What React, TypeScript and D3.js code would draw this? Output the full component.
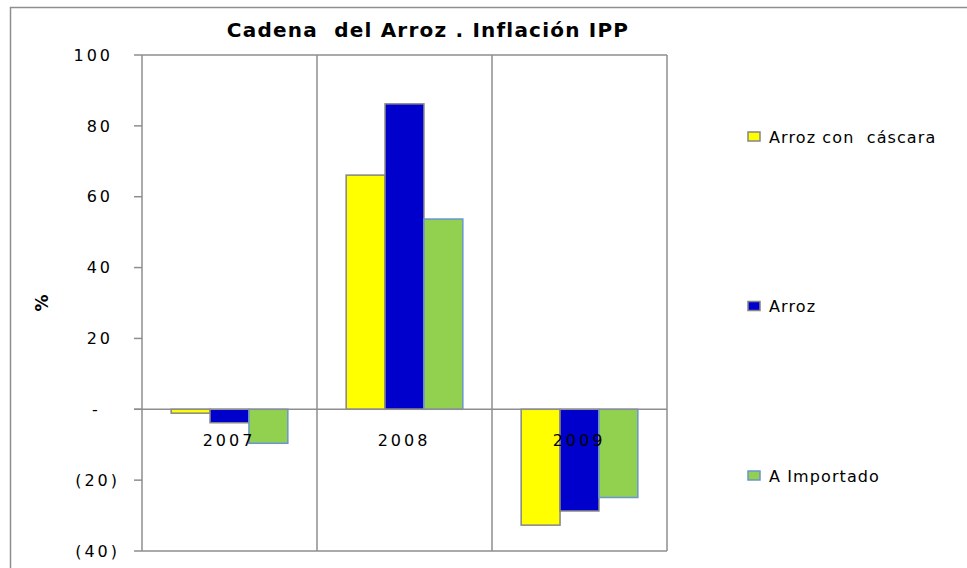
import React from "react";
import * as d3 from "d3";

const categories = ["2007", "2008", "2009"];
const seriesNames = ["Arroz con  cáscara", "Arroz", "A Importado"];
const arrozConCascara = [-1.1, 66.1, -32.7];
const arroz = [-3.8, 86.2, -28.7];
const aImportado = [-9.6, 53.7, -24.9];
const yTicks = [100, 80, 60, 40, 20, 0, -20, -40];
const title = "Cadena  del Arroz . Inflación IPP";
const yLabel = "%";

const seriesValues = [arrozConCascara, arroz, aImportado];
const fills = ["#FFFF00", "#0000CC", "#92D050"];
const strokes = ["#858585", "#858585", "#6A95CF"];

const W = 967;
const H = 568;
const plot = { left: 142, right: 667, top: 55, bottom: 551 };
const gridColor = "#8E8E8E";
const font = "'DejaVu Sans', Verdana, sans-serif";

const keepSpaces = (s: string) => s.replace(/  /g, " \u00A0");

export default function App() {
  const y = d3.scaleLinear().domain([-40, 100]).range([plot.bottom, plot.top]);
  const x = d3.scaleBand<string>().domain(categories).range([plot.left, plot.right]).padding(0);
  const xs = d3
    .scaleBand<number>()
    .domain(d3.range(seriesNames.length))
    .range([0, x.bandwidth()])
    .paddingInner(0)
    .paddingOuter(0.75);

  const fmt = (v: number) => (v === 0 ? "-" : v < 0 ? `(${Math.abs(v)})` : `${v}`);
  const ls = 3;

  return (
    <svg
      width={W}
      height={H}
      style={{ position: "absolute", left: 0, top: 0, background: "#fff" }}
      fontFamily={font}
    >
      {/* outer chart border */}
      <path d={`M10.5,${H + 5} L10.5,7.5 L${W + 5},7.5`} fill="none" stroke={gridColor} strokeWidth={1.5} />

      {/* title */}
      <text x={428} y={37} textAnchor="middle" fontSize={20} fontWeight="bold" letterSpacing={1.2} fill="#000">
        {keepSpaces(title)}
      </text>

      {/* plot border */}
      <line x1={plot.left} x2={plot.right} y1={y(100)} y2={y(100)} stroke={gridColor} strokeWidth={1.5} />
      <line x1={plot.left} x2={plot.right} y1={y(-40)} y2={y(-40)} stroke={gridColor} strokeWidth={1.5} />
      <line x1={plot.right} x2={plot.right} y1={y(100)} y2={y(-40)} stroke={gridColor} strokeWidth={1.5} />

      {/* vertical category gridlines */}
      {categories.slice(1).map((c) => (
        <line
          key={c}
          x1={x(c)!}
          x2={x(c)!}
          y1={y(100)}
          y2={y(-40)}
          stroke={gridColor}
          strokeWidth={1.5}
        />
      ))}

      {/* bars */}
      {categories.map((c, ci) =>
        seriesValues.map((vals, si) => {
          const v = vals[ci];
          const x0 = x(c)! + xs(si)!;
          const y0 = Math.min(y(v), y(0));
          const h = Math.abs(y(v) - y(0));
          return (
            <rect
              key={`${c}-${si}`}
              x={x0}
              y={y0}
              width={xs.bandwidth()}
              height={h}
              fill={fills[si]}
              stroke={strokes[si]}
              strokeWidth={1.5}
            />
          );
        })
      )}

      {/* zero line */}
      <line x1={plot.left - 8} x2={plot.right} y1={y(0)} y2={y(0)} stroke={gridColor} strokeWidth={1.5} />

      {/* y axis */}
      <line x1={plot.left} x2={plot.left} y1={y(100)} y2={y(-40)} stroke={gridColor} strokeWidth={1.5} />
      {yTicks.map((t) => (
        <g key={t}>
          <line x1={plot.left - 8} x2={plot.left} y1={y(t)} y2={y(t)} stroke={gridColor} strokeWidth={1.5} />
          <text
            x={t === 0 ? 95 : t < 0 ? 117 + ls : 110 + ls}
            y={y(t)}
            dy="0.36em"
            textAnchor={t === 0 ? "middle" : "end"}
            fontSize={16}
            letterSpacing={t === 0 ? 0 : ls}
            fill="#000"
          >
            {fmt(t)}
          </text>
        </g>
      ))}

      {/* y label */}
      <text
        transform={`translate(48,${(y(100) + y(-40)) / 2}) rotate(-90)`}
        textAnchor="middle"
        fontSize={17}
        fontWeight="bold"
        fill="#000"
      >
        {yLabel}
      </text>

      {/* category labels */}
      {categories.map((c) => (
        <text
          key={c}
          x={x(c)! + x.bandwidth() / 2 + ls / 2 - 2}
          y={446}
          textAnchor="middle"
          fontSize={16}
          letterSpacing={ls}
          fill="#000"
        >
          {c}
        </text>
      ))}

      {/* legend */}
      {seriesNames.map((s, i) => {
        const ly = 132 + i * 169.5;
        return (
          <g key={s}>
            <rect x={748} y={ly} width={12} height={9} fill={fills[i]} stroke={strokes[i]} strokeWidth={1.5} />
            <text x={769} y={ly + 10.5} fontSize={16} letterSpacing={1.1} fill="#000">
              {keepSpaces(s)}
            </text>
          </g>
        );
      })}
    </svg>
  );
}
